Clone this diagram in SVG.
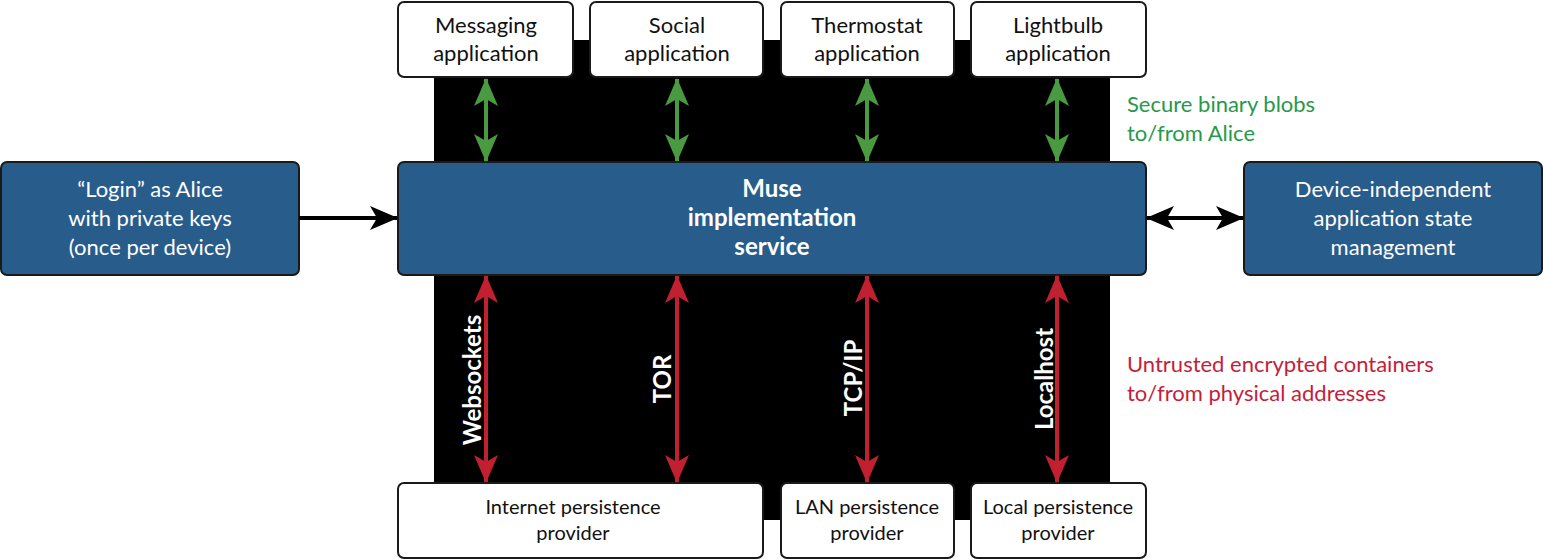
<svg xmlns="http://www.w3.org/2000/svg" width="1544" height="560" viewBox="0 0 1544 560">
<style>
.w{fill:#fff;stroke:#1a1a1a;stroke-width:2}
.b{fill:#285c8b;stroke:#1a1a1a;stroke-width:2}
text{font-family:Lato,"Open Sans",sans-serif;font-size:22px;text-anchor:middle}
.tw{fill:#fff}
.tk{fill:#111}
.sm{font-size:20px}
.bold{font-weight:bold;font-size:24px}
.lbl{font-weight:bold;font-size:24px;fill:#fff}
.g{stroke:#4a9a41;stroke-width:4}
.r{stroke:#c0202f;stroke-width:4}
.k{stroke:#000;stroke-width:4}
</style>
<defs>
<marker id="mg" viewBox="0 0 28 24" refX="27" refY="12" markerWidth="28" markerHeight="24" markerUnits="userSpaceOnUse" orient="auto-start-reverse"><path d="M0,0 L28,12 L0,24 L7,12 Z" fill="#4a9a41"/></marker>
<marker id="mr" viewBox="0 0 28 24" refX="27" refY="12" markerWidth="28" markerHeight="24" markerUnits="userSpaceOnUse" orient="auto-start-reverse"><path d="M0,0 L28,12 L0,24 L7,12 Z" fill="#c0202f"/></marker>
<marker id="mk" viewBox="0 0 28 24" refX="27" refY="12" markerWidth="28" markerHeight="24" markerUnits="userSpaceOnUse" orient="auto-start-reverse"><path d="M0,0 L28,12 L0,24 L7,12 Z" fill="#000"/></marker>
</defs>
<rect id="backdrop" x="434" y="40" width="676" height="480" fill="#000"/>
<g id="messaging"><rect class="w" x="398" y="2" width="175" height="75" rx="6"/><text class="tk" x="486" y="33">Messaging</text><text class="tk" x="486" y="61">application</text></g>
<g id="social"><rect class="w" x="590" y="2" width="173" height="75" rx="6"/><text class="tk" x="677" y="33">Social</text><text class="tk" x="677" y="61">application</text></g>
<g id="thermostat"><rect class="w" x="781" y="2" width="173" height="75" rx="6"/><text class="tk" x="867" y="33">Thermostat</text><text class="tk" x="867" y="61">application</text></g>
<g id="lightbulb"><rect class="w" x="971" y="2" width="175" height="75" rx="6"/><text class="tk" x="1058" y="33">Lightbulb</text><text class="tk" x="1058" y="61">application</text></g>
<g id="login"><rect class="b" x="1" y="162" width="298" height="113" rx="6"/><text class="tw" x="150" y="197">“Login” as Alice</text><text class="tw" x="150" y="226">with private keys</text><text class="tw" x="150" y="255">(once per device)</text></g>
<g id="muse"><rect class="b" x="398" y="162" width="748" height="113" rx="6"/><text class="tw bold" x="772" y="197">Muse</text><text class="tw bold" x="772" y="226">implementation</text><text class="tw bold" x="772" y="255">service</text></g>
<g id="state"><rect class="b" x="1244" y="162" width="298" height="113" rx="6"/><text class="tw" x="1393" y="197">Device-independent</text><text class="tw" x="1393" y="226">application state</text><text class="tw" x="1393" y="255">management</text></g>
<g id="internet"><rect class="w" x="398" y="483" width="365" height="75" rx="6"/><text class="tk sm" x="573" y="514">Internet persistence</text><text class="tk sm" x="573" y="540">provider</text></g>
<g id="lan"><rect class="w" x="781" y="483" width="173" height="75" rx="6"/><text class="tk sm" x="867" y="514">LAN persistence</text><text class="tk sm" x="867" y="540">provider</text></g>
<g id="local"><rect class="w" x="971" y="483" width="175" height="75" rx="6"/><text class="tk sm" x="1058" y="514">Local persistence</text><text class="tk sm" x="1058" y="540">provider</text></g>
<g id="connectors">
<line class="g" x1="486" y1="79" x2="486" y2="161" marker-start="url(#mg)" marker-end="url(#mg)"/>
<line class="g" x1="677" y1="79" x2="677" y2="161" marker-start="url(#mg)" marker-end="url(#mg)"/>
<line class="g" x1="867" y1="79" x2="867" y2="161" marker-start="url(#mg)" marker-end="url(#mg)"/>
<line class="g" x1="1057" y1="79" x2="1057" y2="161" marker-start="url(#mg)" marker-end="url(#mg)"/>
<line class="r" x1="486" y1="276" x2="486" y2="482" marker-start="url(#mr)" marker-end="url(#mr)"/>
<line class="r" x1="677" y1="276" x2="677" y2="482" marker-start="url(#mr)" marker-end="url(#mr)"/>
<line class="r" x1="867" y1="276" x2="867" y2="482" marker-start="url(#mr)" marker-end="url(#mr)"/>
<line class="r" x1="1057" y1="276" x2="1057" y2="482" marker-start="url(#mr)" marker-end="url(#mr)"/>
<line class="k" x1="299" y1="218" x2="397" y2="218" marker-end="url(#mk)"/>
<line class="k" x1="1147" y1="218" x2="1243" y2="218" marker-start="url(#mk)" marker-end="url(#mk)"/>
<text class="lbl" transform="translate(481,380) rotate(-90)">Websockets</text>
<text class="lbl" transform="translate(671,379) rotate(-90)">TOR</text>
<text class="lbl" transform="translate(862,378) rotate(-90)">TCP/IP</text>
<text class="lbl" transform="translate(1053,379) rotate(-90)">Localhost</text>
</g>
<g id="notes">
<text x="1127" y="112" style="text-anchor:start;fill:#26994a">Secure binary blobs</text>
<text x="1127" y="141" style="text-anchor:start;fill:#26994a">to/from Alice</text>
<text x="1127" y="372" style="text-anchor:start;fill:#c41e3a">Untrusted encrypted containers</text>
<text x="1127" y="401" style="text-anchor:start;fill:#c41e3a">to/from physical addresses</text>
</g>
</svg>
